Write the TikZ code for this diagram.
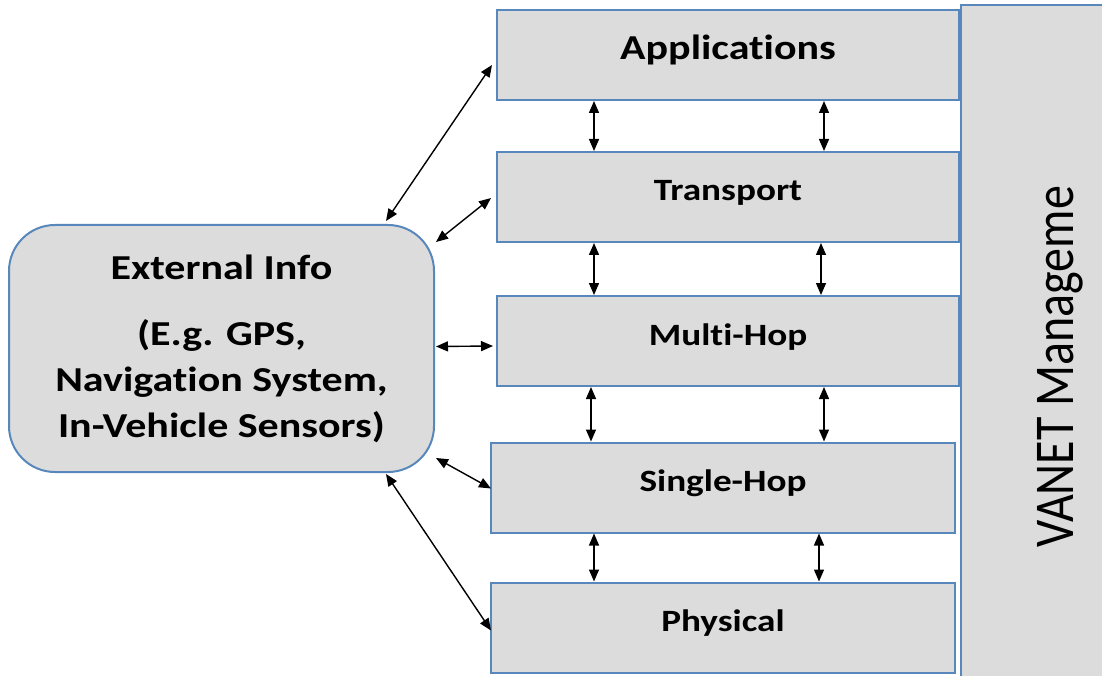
\documentclass[tikz,border=0pt]{standalone}
\usepackage{fontspec}
\setmainfont[Ligatures=NoCommon]{Carlito}
\newfontfamily\widefont[FakeStretch=1.2, Ligatures=NoCommon]{Carlito}
\usetikzlibrary{arrows.meta,calc}
\definecolor{edgeblue}{RGB}{88,135,188}
\definecolor{boxgrey}{RGB}{220,220,220}
\tikzset{
  layerbox/.style={draw=edgeblue, line width=2pt, fill=boxgrey, minimum height=90pt,
    inner sep=0pt, text height=22pt, text depth=14pt,
    font=\widefont\bfseries\fontsize{31}{37}\selectfont},
  infobox/.style={draw=edgeblue, line width=2pt, fill=boxgrey, rounded corners=46pt,
    minimum width=425pt, minimum height=247pt, align=center, inner sep=0pt,
    font=\widefont\bfseries\fontsize{35}{46}\selectfont},
  link/.style={line width=1.4pt, {Triangle[length=12pt,width=10pt]}-{Triangle[length=12pt,width=10pt]}}
}
\begin{document}
\begin{tikzpicture}[x=1pt,y=-1pt]
\useasboundingbox (0,0) rectangle (1102,676);
% management column on the right
\node[draw=edgeblue, line width=2pt, fill=boxgrey, minimum width=150pt, minimum height=680pt, inner sep=0pt] (mgmt) at (1036,345) {};
\node[rotate=90, inner sep=0pt] (mgmtlabel) at (1060,367)
  {\scalebox{1}[1.17]{\fontsize{48}{56}\selectfont VANET Manageme}};
% protocol layers
\node[layerbox, minimum width=462pt, text height=25pt, text depth=16pt] (app) at (728,55)
  {\fontsize{35}{42}\selectfont Applications};
\node[layerbox, minimum width=462pt] (trans) at (728,197) {Transport};
\node[layerbox, minimum width=462pt] (multi) at (728,341) {Multi-Hop};
\node[layerbox, minimum width=464pt] (single) at (723,487.5) {Single-Hop};
\node[layerbox, minimum width=464pt] (phys) at (723,627.5) {Physical};
% external information source
\node[infobox] (ext) at (221.5,348.5)
  {External Info\\[20pt] (E.g. GPS,\\ Navigation System,\\ In-Vehicle Sensors)};
% links between neighbouring layers
\draw[link] (app.south -| 594,0) -- (trans.north -| 594,0);
\draw[link] (app.south -| 824,0) -- (trans.north -| 824,0);
\draw[link] (trans.south -| 594,0) -- (multi.north -| 594,0);
\draw[link] (trans.south -| 821,0) -- (multi.north -| 821,0);
\draw[link] (multi.south -| 591,0) -- (single.north -| 591,0);
\draw[link] (multi.south -| 824,0) -- (single.north -| 824,0);
\draw[link] (single.south -| 594,0) -- (phys.north -| 594,0);
\draw[link] (single.south -| 819,0) -- (phys.north -| 819,0);
% links from the external source to the layers
\draw[link] ($(ext.north east)+(-49,-3)$) -- ($(app.west)+(-4,10)$);
\draw[link] ($(ext.north east)+(1,18)$) -- ($(trans.west)+(-5,1)$);
\draw[link] ($(ext.east)+(1,-2)$) -- ($(multi.west)+(-3,5)$);
\draw[link] ($(ext.south east)+(1,-15)$) -- ($(single.west)+(1,1)$);
\draw[link] ($(ext.south east)+(-49,1)$) -- ($(phys.west)+(1,3)$);
\end{tikzpicture}
\end{document}
